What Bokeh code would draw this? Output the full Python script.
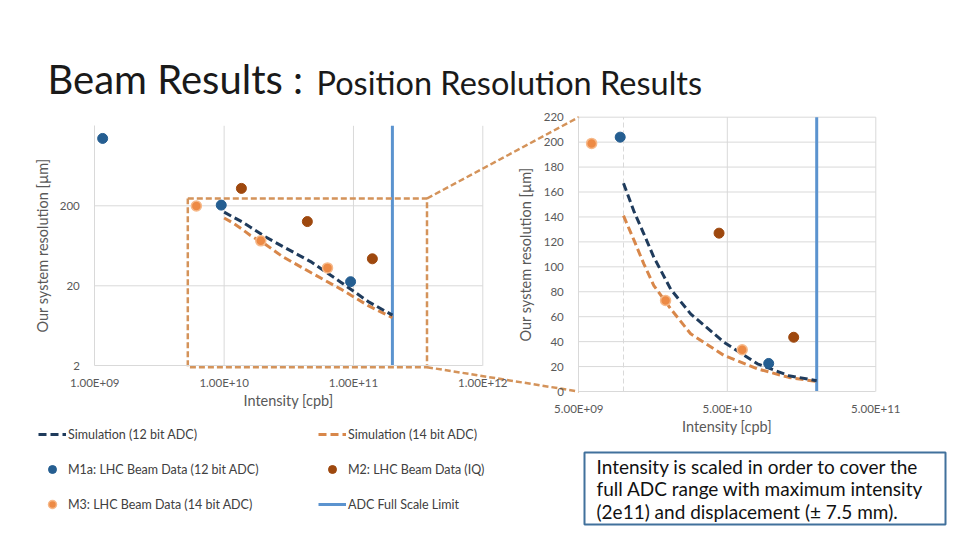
import math
from bokeh.plotting import figure
from bokeh.models import (Range1d, LogScale, LinearScale, LogAxis, LinearAxis, FixedTicker,
                          CustomJSTickFormatter, Legend, LegendItem)
from bokeh.embed import file_html
from bokeh.resources import INLINE
from bokeh.core.properties import value

# ---------------- data ----------------
m1a_x = [1.15e9, 9.5e9, 9.5e10]
m1a_y = [1390, 204, 22.5]
m2_x = [1.36e10, 4.4e10, 1.4e11]
m2_y = [330, 127, 43.5]
m3_x = [6.1e9, 1.92e10, 6.3e10]
m3_y = [199, 73, 33.5]
sim_x = [1e10, 1.18e10, 1.37e10, 1.6e10, 2.08e10, 2.83e10, 4.75e10, 7.98e10, 1.3e11, 2e11]
sim12_y = [167, 144, 126.5, 107.7, 82, 62.3, 39.5, 22.2, 12.7, 8.6]
sim14_y = [141, 121, 102.4, 85, 66.3, 46.3, 28.9, 18.2, 11.3, 8.0]
adc_limit = 2e11

left_xticks = [1e9, 1e10, 1e11, 1e12]
left_yticks = [2, 20, 200]
left_ymax = 2000
right_xticks = [5e9, 5e10, 5e11]
right_yticks = list(range(0, 221, 20))
right_xmark = 1e10

title_main = "Beam Results :"
title_sub = "Position Resolution Results"
axis_x_label = "Intensity [cpb]"
axis_y_label = "Our system resolution [µm]"
note_lines = ["Intensity is scaled in order to cover the",
              "full ADC range with maximum intensity",
              "(2e11) and displacement (± 7.5 mm)."]

# ---------------- styles ----------------
FONT = "Lato"
SIM12 = "#1f3b5c"
SIM14 = "#d8874a"
M1A = "#255e91"
M2 = "#9e480e"
M3 = "#ed8a45"
ADC = "#5b93cf"
ZOOM = "#d4935a"
GRID = "#d9d9d9"
TXT = "#595959"

# page geometry (page pixel coordinates, y downward)
X0, X1, Y0, Y1 = 0, 960, 0, 540


def log_rng(v0, p0, v1, p1, a, b):
    l0, l1 = math.log10(v0), math.log10(v1)
    k = (l1 - l0) / (p1 - p0)
    return Range1d(10 ** (l0 + (a - p0) * k), 10 ** (l0 + (b - p0) * k))


def lin_rng(v0, p0, v1, p1, a, b):
    k = (v1 - v0) / (p1 - p0)
    return Range1d(v0 + (a - p0) * k, v0 + (b - p0) * k)


p = figure(width=X1 - X0, height=Y1 - Y0, x_range=Range1d(X0, X1), y_range=Range1d(Y1, Y0),
           output_backend="svg", toolbar_location=None, x_axis_type=None, y_axis_type=None,
           min_border=0)
p.outline_line_color = None
p.background_fill_color = "white"
p.border_fill_color = "white"

# plot-area placement of the two charts (pixels)
LXP = (94.3, 482.3); LYP = (365.3, 125.3)
RXP = (578.3, 875.3); RYP = (391.0, 116.7)

p.extra_x_ranges = {
    "lx": log_rng(left_xticks[0], LXP[0], left_xticks[-1], LXP[1], X0, X1),
    "rx": log_rng(right_xticks[0], RXP[0], right_xticks[-1], RXP[1], X0, X1),
}
p.extra_y_ranges = {
    "ly": log_rng(left_yticks[0], LYP[0], left_ymax, LYP[1], Y1, Y0),
    "ry": lin_rng(right_yticks[0], RYP[0], right_yticks[-1], RYP[1], Y1, Y0),
}
p.extra_x_scales = {"lx": LogScale(), "rx": LogScale()}
p.extra_y_scales = {"ly": LogScale(), "ry": LinearScale()}

L = dict(x_range_name="lx", y_range_name="ly")
R = dict(x_range_name="rx", y_range_name="ry")

fmt_e = CustomJSTickFormatter(code="""
const s = tick.toExponential(2).split('e');
const e = parseInt(s[1]);
return s[0] + 'E' + (e < 0 ? '-' : '+') + String(Math.abs(e)).padStart(2, '0');
""")
fmt_plain = CustomJSTickFormatter(code="return String(Math.round(tick));")

# ---------------- left chart ----------------
lx0, lx1 = left_xticks[0], left_xticks[-1]
ly0, ly1 = left_yticks[0], left_ymax
gy = left_yticks[1:]
p.segment(x0=[lx0] * len(gy), x1=[lx1] * len(gy), y0=gy, y1=gy, line_color=GRID, line_width=1, **L)
gx = left_xticks[1:]
p.segment(x0=gx, x1=gx, y0=[ly0] * len(gx), y1=[ly1] * len(gx), line_color=GRID, line_width=1, **L)


def style_axis(ax, standoff, label_standoff):
    ax.axis_line_color = GRID
    ax.major_tick_line_color = None
    ax.minor_tick_line_color = None
    ax.major_label_text_font = FONT
    ax.major_label_text_font_size = "11.5px"
    ax.major_label_text_color = TXT
    ax.major_label_standoff = standoff
    ax.axis_label_text_font = FONT
    ax.axis_label_text_font_size = "14.5px"
    ax.axis_label_text_font_style = "normal"
    ax.axis_label_text_color = TXT
    ax.axis_label_standoff = label_standoff


axl = LogAxis(fixed_location=ly0, bounds=(lx0, lx1), ticker=FixedTicker(ticks=left_xticks),
              formatter=fmt_e, axis_label=axis_x_label, **L)
style_axis(axl, 4, 0)
p.add_layout(axl, "below")
ayl = LogAxis(fixed_location=lx0, bounds=(ly0, ly1), ticker=FixedTicker(ticks=left_yticks),
              formatter=fmt_plain, axis_label=axis_y_label, **L)
style_axis(ayl, 9, 5)
p.add_layout(ayl, "left")

r_adc = p.segment(x0=[adc_limit], x1=[adc_limit], y0=[ly0], y1=[ly1], line_color=ADC, line_width=3, **L)
r_s14 = p.line(sim_x, sim14_y, line_color=SIM14, line_width=3, line_dash="8 4", **L)
r_s12 = p.line(sim_x, sim12_y, line_color=SIM12, line_width=3, line_dash="8 4", **L)
r_m2 = p.scatter(m2_x, m2_y, marker="circle", size=10, fill_color=M2, line_color=M2, **L)
r_m3 = p.scatter(m3_x, m3_y, marker="circle", size=10, fill_color=M3, line_color="#f6b98a",
                 line_width=1.5, **L)
r_m1 = p.scatter(m1a_x, m1a_y, marker="circle", size=10, fill_color=M1A, line_color=M1A, **L)

# ---------------- right chart ----------------
rx0, rx1 = right_xticks[0], right_xticks[-1]
ry0, ry1 = right_yticks[0], right_yticks[-1]
gy = right_yticks[1:]
p.segment(x0=[rx0] * len(gy), x1=[rx1] * len(gy), y0=gy, y1=gy, line_color=GRID, line_width=1, **R)
gx = right_xticks[1:]
p.segment(x0=gx, x1=gx, y0=[ry0] * len(gx), y1=[ry1] * len(gx), line_color=GRID, line_width=1, **R)
p.segment(x0=[right_xmark], x1=[right_xmark], y0=[ry0], y1=[ry1], line_color=GRID, line_width=1,
          line_dash="5 3", **R)

axr = LogAxis(fixed_location=ry0, bounds=(rx0, rx1), ticker=FixedTicker(ticks=right_xticks),
              formatter=fmt_e, axis_label=axis_x_label, **R)
style_axis(axr, 4, 0)
p.add_layout(axr, "below")
ayr = LinearAxis(fixed_location=rx0, bounds=(ry0, ry1), ticker=FixedTicker(ticks=right_yticks),
                 axis_label=axis_y_label, **R)
style_axis(ayr, 9, 6)
p.add_layout(ayr, "left")


def inside(xs, ys):
    pts = [(a, b) for a, b in zip(xs, ys) if rx0 <= a <= rx1 and ry0 <= b <= ry1]
    return [a for a, _ in pts], [b for _, b in pts]


p.segment(x0=[adc_limit], x1=[adc_limit], y0=[ry0], y1=[ry1], line_color=ADC, line_width=3, **R)
p.line(sim_x, sim14_y, line_color=SIM14, line_width=3, line_dash="8 4", **R)
p.line(sim_x, sim12_y, line_color=SIM12, line_width=3, line_dash="8 4", **R)
xs, ys = inside(m2_x, m2_y)
p.scatter(xs, ys, marker="circle", size=10, fill_color=M2, line_color=M2, **R)
xs, ys = inside(m3_x, m3_y)
p.scatter(xs, ys, marker="circle", size=10, fill_color=M3, line_color="#f6b98a", line_width=1.5, **R)
xs, ys = inside(m1a_x, m1a_y)
p.scatter(xs, ys, marker="circle", size=10, fill_color=M1A, line_color=M1A, **R)

# ---------------- zoom box and connectors (page pixels) ----------------
bx0, bx1, by0, by1 = 187.3, 426.5, 198.0, 366.7
p.multi_line(xs=[[bx0, bx1, bx1, bx0, bx0], [bx1, RXP[0]], [bx1, RXP[0]]],
             ys=[[by0, by0, by1, by1, by0], [by0, RYP[1]], [by1, RYP[0]]],
             line_color=ZOOM, line_width=2.5, line_dash="6 3")

# ---------------- title ----------------
p.text(x=[47], y=[78.5], text=[title_main], text_font=value(FONT), text_font_size="40px",
       text_color="#1a1a1a", text_baseline="middle", text_align="left")
p.text(x=[316], y=[81.5], text=[title_sub], text_font=value(FONT), text_font_size="32.5px",
       text_color="#1a1a1a", text_baseline="middle", text_align="left")

# ---------------- note box ----------------
p.quad(left=[584], right=[945], top=[452], bottom=[524], fill_color=None,
       line_color="#41719c", line_width=2)
p.text(x=[596] * 3, y=[465.5, 488, 510.5], text=note_lines, text_font=value(FONT),
       text_font_size="19px", text_color="#111111", text_baseline="middle", text_align="left")

# ---------------- legends ----------------
def make_legend(items, vx):
    leg = Legend(items=items, location=(vx, 26), orientation="vertical", spacing=15,
                 glyph_width=28, glyph_height=20, label_height=20, padding=0, margin=0,
                 label_standoff=2, border_line_color=None, background_fill_alpha=0,
                 label_text_font=FONT, label_text_font_size="12.5px", label_text_color="#404040")
    return leg


leg1 = make_legend([LegendItem(label="Simulation (12 bit ADC)", renderers=[r_s12]),
                    LegendItem(label="M1a: LHC Beam Data (12 bit ADC)", renderers=[r_m1]),
                    LegendItem(label="M3: LHC Beam Data (14 bit ADC)", renderers=[r_m3])], 38)
leg2 = make_legend([LegendItem(label="Simulation (14 bit ADC)", renderers=[r_s14]),
                    LegendItem(label="M2: LHC Beam Data (IQ)", renderers=[r_m2]),
                    LegendItem(label="ADC Full Scale Limit", renderers=[r_adc])], 318)
p.add_layout(leg1)
p.add_layout(leg2)

open("out.html", "w").write(file_html(p, INLINE))
